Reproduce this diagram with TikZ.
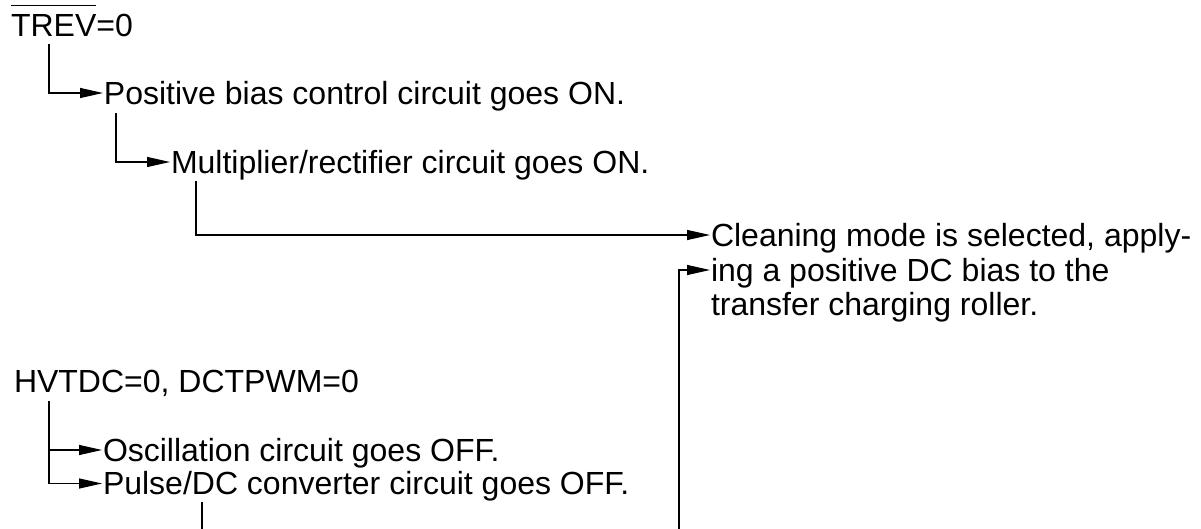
\documentclass[tikz,border=0pt]{standalone}
\usepackage{fontspec}
\setmainfont{Liberation Sans}
\usetikzlibrary{arrows.meta,calc}
\newcommand\ovbar[1]{\setbox0\hbox{#1}\rlap{\rule[\dimexpr\ht0+4pt\relax]{\wd0}{0.5pt}}#1}
\begin{document}
\begin{tikzpicture}[x=0.5pt,y=-0.5pt,
  lbl/.style={anchor=west,inner sep=0pt,outer sep=0.5pt,text height=11.45pt,text depth=0pt,font=\fontsize{16}{19}\selectfont},
  arr/.style={line width=0.6pt,-{Triangle[length=11.5pt,width=5pt]}},
  ln/.style={line width=0.6pt}]
\useasboundingbox (0,0) rectangle (1201,529);
\node[lbl] (trev) at (10,25) {\ovbar{TREV}=0};
\node[lbl] (pos) at (103,93) {Positive bias control circuit goes ON.};
\node[lbl] (mult) at (170,162) {Multiplier/rectifier circuit goes ON.};
\node[lbl] (clean) at (710,235) {Cleaning mode is selected, apply-};
\node[lbl] (cleanb) at (710,270) {ing a positive DC bias to the};
\node[lbl] (cleanc) at (710,304.5) {transfer charging roller.};
\node[lbl] (hv) at (13,381) {HVTDC=0, DCTPWM=0};
\node[lbl] (osc) at (102,450) {Oscillation circuit goes OFF.};
\node[lbl] (pulse) at (102,483.5) {Pulse/DC converter circuit goes OFF.};
\coordinate (b1) at (679,529);
\coordinate (b2) at (202,529);
\draw[arr] ($(trev.south west)+(39,6.5)$) |- (pos.west);
\draw[arr] ($(pos.south west)+(13,8)$) |- (mult.west);
\draw[arr] ($(mult.south west)+(26,6.5)$) |- (clean.west);
\draw[arr] (b1) |- (cleanb.west);
\draw[arr] ($(hv.south west)+(36,8)$) |- (osc.west);
\draw[arr] ($(hv.south west)+(36,8)$) |- (pulse.west);
\draw[ln] ($(pulse.south west)+(100,6.5)$) -- (b2);
\end{tikzpicture}
\end{document}
